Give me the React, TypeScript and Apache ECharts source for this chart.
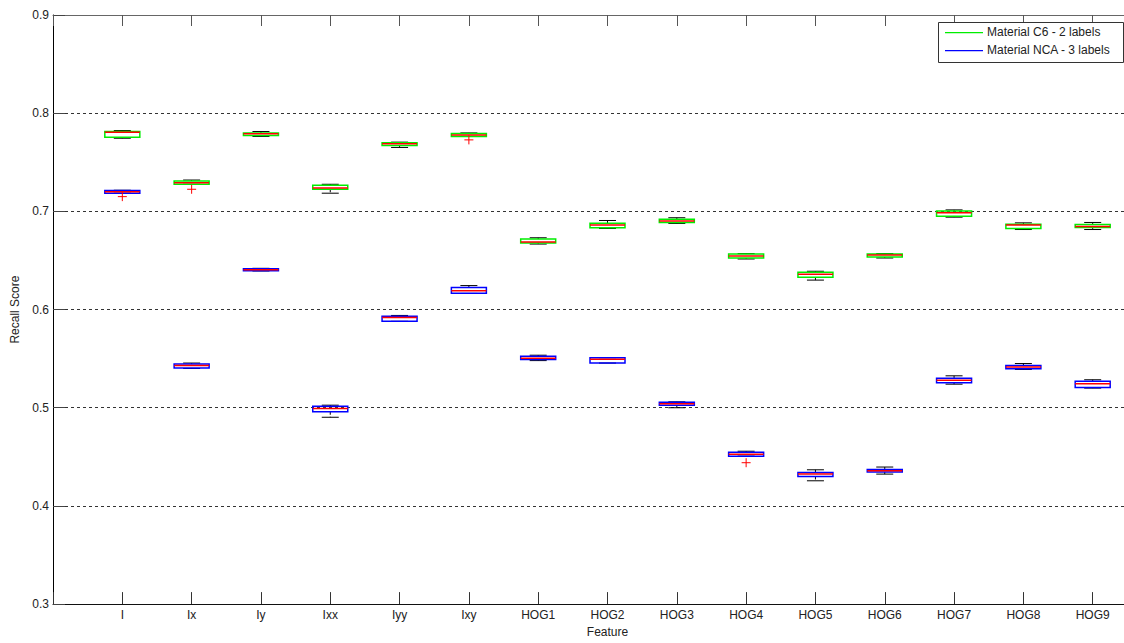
import React, { useEffect, useRef } from "react";
import * as echarts from "echarts";

const CATEGORIES = ["I", "Ix", "Iy", "Ixx", "Iyy", "Ixy", "HOG1", "HOG2", "HOG3", "HOG4", "HOG5", "HOG6", "HOG7", "HOG8", "HOG9"];

// [min, q1, median, q3, max]
const C6_STATS = [
  [0.7745, 0.7756, 0.7806, 0.7813, 0.7823],
  [0.7276, 0.7276, 0.7292, 0.7309, 0.7319],
  [0.7763, 0.7773, 0.779, 0.7797, 0.7813],
  [0.7185, 0.7225, 0.7238, 0.7266, 0.7276],
  [0.7651, 0.7672, 0.7688, 0.7698, 0.7705],
  [0.7763, 0.7763, 0.7779, 0.7793, 0.7799],
  [0.6667, 0.6677, 0.6689, 0.6718, 0.6731],
  [0.6826, 0.6833, 0.686, 0.688, 0.6907],
  [0.6877, 0.6887, 0.6903, 0.692, 0.6935],
  [0.6515, 0.6525, 0.6545, 0.6565, 0.657],
  [0.63, 0.633, 0.636, 0.638, 0.639],
  [0.6525, 0.6535, 0.6555, 0.6565, 0.657],
  [0.6941, 0.6951, 0.6985, 0.7005, 0.7015],
  [0.6815, 0.6826, 0.686, 0.687, 0.6883],
  [0.6815, 0.6836, 0.6846, 0.6866, 0.6887],
];

const NCA_STATS = [
  [0.7185, 0.7185, 0.72, 0.7213, 0.7215],
  [0.54, 0.5405, 0.543, 0.5445, 0.5455],
  [0.6393, 0.6395, 0.6405, 0.6415, 0.642],
  [0.4903, 0.4959, 0.4993, 0.5014, 0.5026],
  [0.588, 0.5882, 0.592, 0.5933, 0.594],
  [0.6164, 0.6166, 0.6191, 0.6224, 0.6244],
  [0.548, 0.549, 0.5505, 0.5525, 0.5535],
  [0.5455, 0.5455, 0.5495, 0.551, 0.551],
  [0.5, 0.5025, 0.504, 0.5055, 0.506],
  [0.4507, 0.4507, 0.4527, 0.4547, 0.4557],
  [0.4256, 0.43, 0.4324, 0.4341, 0.4368],
  [0.4324, 0.4345, 0.4358, 0.4371, 0.4396],
  [0.524, 0.5255, 0.528, 0.53, 0.5325],
  [0.539, 0.5396, 0.5416, 0.543, 0.545],
  [0.52, 0.5205, 0.5245, 0.527, 0.5285],
];

// [category name, value]
const C6_OUTLIERS: [string, number][] = [
  ["Ix", 0.7225],
  ["Ixy", 0.7728],
];
const NCA_OUTLIERS: [string, number][] = [
  ["I", 0.715],
  ["HOG4", 0.444],
];

const Y_MIN = 0.3;
const Y_MAX = 0.9;
const Y_STEP = 0.1;

const SERIES_NAMES = ["Material C6 - 2 labels", "Material NCA - 3 labels"];
const GREEN = "#00ee00";
const BLUE = "#0000ff";
const RED = "#ff0000";
const FONT = "'Liberation Sans', Arial, sans-serif";

const CHART_W = 1170;
const CHART_H = 643;

function boxRenderer(color: string) {
  return (params: any, api: any) => {
    const xi = api.value(0);
    const pMin = api.coord([xi, api.value(1)]);
    const pQ1 = api.coord([xi, api.value(2)]);
    const pMed = api.coord([xi, api.value(3)]);
    const pQ3 = api.coord([xi, api.value(4)]);
    const pMax = api.coord([xi, api.value(5)]);
    const x = pMin[0];
    const hw = 17.5;
    const cw = 8.5;
    const black = { stroke: "#000", lineWidth: 1 };
    return {
      type: "group",
      children: [
        { type: "line", shape: { x1: x, y1: pMax[1], x2: x, y2: pQ3[1] }, style: { ...black, lineDash: [3, 2] } },
        { type: "line", shape: { x1: x, y1: pQ1[1], x2: x, y2: pMin[1] }, style: { ...black, lineDash: [3, 2] } },
        { type: "line", shape: { x1: x - cw, y1: pMax[1], x2: x + cw, y2: pMax[1] }, style: black },
        { type: "line", shape: { x1: x - cw, y1: pMin[1], x2: x + cw, y2: pMin[1] }, style: black },
        {
          type: "rect",
          shape: { x: x - hw, y: pQ3[1], width: hw * 2, height: Math.max(pQ1[1] - pQ3[1], 0.5) },
          style: { fill: "none", stroke: color, lineWidth: 1.5 },
        },
        { type: "line", shape: { x1: x - hw, y1: pMed[1], x2: x + hw, y2: pMed[1] }, style: { stroke: RED, lineWidth: 1.5 } },
      ],
    };
  };
}

function plusRenderer(params: any, api: any) {
  const p = api.coord([api.value(0), api.value(1)]);
  const s = 4.5;
  return {
    type: "group",
    children: [
      { type: "line", shape: { x1: p[0] - s, y1: p[1], x2: p[0] + s, y2: p[1] }, style: { stroke: RED, lineWidth: 1 } },
      { type: "line", shape: { x1: p[0], y1: p[1] - s, x2: p[0], y2: p[1] + s }, style: { stroke: RED, lineWidth: 1 } },
    ],
  };
}

export default function App() {
  const ref = useRef<HTMLDivElement>(null);

  useEffect(() => {
    if (!ref.current) return;
    const chart = echarts.init(ref.current, null, { renderer: "svg", width: CHART_W, height: CHART_H });
    const axisCats = ["", ...CATEGORIES, ""];
    const toBoxData = (stats: number[][]) => stats.map((s, i) => [i + 1, ...s]);
    const toOutData = (outs: [string, number][]) => outs.map(([c, v]) => [CATEGORIES.indexOf(c) + 1, v]);

    chart.setOption({
      animation: false,
      backgroundColor: "#fff",
      textStyle: { fontFamily: FONT },
      grid: { left: 53, right: 8, top: 15, bottom: 36, containLabel: false },
      xAxis: [
        {
          type: "category",
          data: axisCats,
          boundaryGap: false,
          position: "bottom",
          name: "Feature",
          nameLocation: "middle",
          nameGap: 20,
          nameTextStyle: { color: "#222", fontSize: 12, fontFamily: FONT },
          axisLine: { lineStyle: { color: "#111", width: 1 } },
          axisTick: { inside: true, length: 12, interval: 0, lineStyle: { color: "#333" } },
          axisLabel: { interval: 0, color: "#222", fontSize: 12, fontFamily: FONT, margin: 5 },
          splitLine: { show: false },
        },
        {
          type: "category",
          data: axisCats,
          boundaryGap: false,
          position: "top",
          axisLine: { lineStyle: { color: "#666", width: 1 } },
          axisTick: { inside: true, length: 11, interval: 0, lineStyle: { color: "#555" } },
          axisLabel: { show: false },
          splitLine: { show: false },
        },
      ],
      yAxis: [
        {
          type: "value",
          min: Y_MIN,
          max: Y_MAX,
          interval: Y_STEP,
          name: "Recall Score",
          nameLocation: "middle",
          nameGap: 30,
          nameTextStyle: { color: "#222", fontSize: 12, fontFamily: FONT },
          axisLine: { show: true, lineStyle: { color: "#000", width: 1 } },
          axisTick: { show: true, inside: true, length: 12, lineStyle: { color: "#444" } },
          axisLabel: { color: "#222", fontSize: 12, fontFamily: FONT, margin: 4, formatter: (v: number) => v.toFixed(1) },
          splitLine: { show: true, lineStyle: { color: "#333", type: [3, 3], width: 1 } },
        },
      ],
      series: [
        {
          name: SERIES_NAMES[0],
          type: "custom",
          renderItem: boxRenderer(GREEN),
          data: toBoxData(C6_STATS),
          encode: { x: 0, y: [1, 2, 3, 4, 5] },
          clip: false,
          z: 3,
        },
        {
          name: SERIES_NAMES[1],
          type: "custom",
          renderItem: boxRenderer(BLUE),
          data: toBoxData(NCA_STATS),
          encode: { x: 0, y: [1, 2, 3, 4, 5] },
          clip: false,
          z: 3,
        },
        {
          name: SERIES_NAMES[0] + " outliers",
          type: "custom",
          renderItem: plusRenderer,
          data: toOutData(C6_OUTLIERS),
          encode: { x: 0, y: 1 },
          z: 4,
        },
        {
          name: SERIES_NAMES[1] + " outliers",
          type: "custom",
          renderItem: plusRenderer,
          data: toOutData(NCA_OUTLIERS),
          encode: { x: 0, y: 1 },
          z: 4,
        },
      ],
      graphic: [
        { type: "rect", left: 938, top: 22, shape: { width: 185, height: 40 }, style: { fill: "#fff", stroke: "#333", lineWidth: 1 }, z: 10 },
        { type: "rect", left: 945, top: 32, shape: { width: 38, height: 1.2 }, style: { fill: GREEN }, z: 11 },
        { type: "rect", left: 945, top: 50, shape: { width: 38, height: 1.2 }, style: { fill: BLUE }, z: 11 },
        { type: "text", left: 987, top: 26, style: { text: SERIES_NAMES[0], fill: "#222", font: `12px ${FONT}` }, z: 11 },
        { type: "text", left: 987, top: 44, style: { text: SERIES_NAMES[1], fill: "#222", font: `12px ${FONT}` }, z: 11 },
      ],
    });
    return () => chart.dispose();
  }, []);

  return (
    <div style={{ position: "fixed", left: 0, top: 0, width: 1124, height: 643, overflow: "hidden", background: "#fff" }}>
      <div ref={ref} style={{ width: CHART_W, height: CHART_H }} />
    </div>
  );
}
